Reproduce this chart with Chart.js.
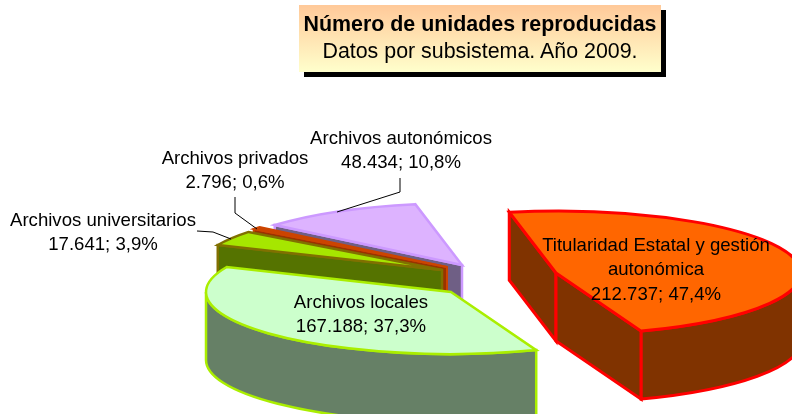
<!DOCTYPE html>
<html>
<head>
<meta charset="utf-8">
<title>Número de unidades reproducidas</title>
<script src="https://cdn.jsdelivr.net/npm/chart.js@4"></script>
<style>
html, body { margin: 0; padding: 0; background: #fff; overflow: hidden; }
#wrap { position: relative; width: 792px; height: 414px; overflow: hidden; }
#title {
    position: absolute; left: 299px; top: 5px; width: 362px; height: 67px;
    background: linear-gradient(#ffc999, #ffffcc);
    box-shadow: 5px 5px 0 #000;
    font-family: "Liberation Sans", Arial, sans-serif;
    font-size: 21.4px; line-height: 27px; text-align: center; color: #000;
}
#title b { display: block; margin-top: 6px; white-space: nowrap; }
</style>
</head>
<body>
<div id="wrap">
    <div id="title"><b>Número de unidades reproducidas</b>Datos por subsistema. Año 2009.</div>
    <canvas id="pieChart" width="792" height="414"></canvas>
</div>
<script>
// Data
const categories = ['Titularidad Estatal y gestión autonómica', 'Archivos locales', 'Archivos universitarios', 'Archivos privados', 'Archivos autonómicos'];
const unidades = [212737, 167188, 17641, 2796, 48434];
const porcentajes = ['47,4', '37,3', '3,9', '0,6', '10,8'];

// Styles
const topColors = ['#ff6600', '#ccffcc', '#a6e600', '#cc4400', '#ddb3ff'];
const sideColors = ['#803300', '#668066', '#557300', '#993300', '#6f5f85'];
const edgeColors = ['#ff0000', '#aaee00', '#807000', '#cc4400', '#cc99ff'];
const edgeWidths = [3, 2.5, 2.5, 2, 2.5];

// 3D look: squash of the pie, height of the walls, how far each slice is pulled out
const squash = 0.253;
const depth = 68;
const explode = [[160, 66], [55, 85], [46, 63], [51, 60], [66, 58]];
const drawOrder = [4, 3, 2, 1, 0];

// Label placement: centre x, first line y
const labelLines = [
    ['Titularidad Estatal y gestión', 'autonómica'],
    ['Archivos locales'],
    ['Archivos universitarios'],
    ['Archivos privados'],
    ['Archivos autonómicos']
];
const labelPos = [[656, 246], [361, 302.5], [103, 220.5], [235, 158.5], [401, 138.5]];
const leaders = [
    null,
    null,
    [[197, 231], [213, 232], [231, 239]],
    [[235, 197], [235, 213], [257, 229]],
    [[400, 178], [400, 192], [337, 212]]
];

function formatMiles(n) {
    return String(n).replace(/\B(?=(\d{3})+$)/g, '.');
}

function edgePoint(cx, cy, r, angle) {
    return [cx + Math.cos(angle) * r, cy + Math.sin(angle) * r * squash];
}

function strokeFill(ctx, fill, stroke, width) {
    ctx.fillStyle = fill;
    ctx.fill();
    ctx.strokeStyle = stroke;
    ctx.lineWidth = width;
    ctx.lineJoin = 'miter';
    ctx.stroke();
}

const pie3d = {
    id: 'pie3d',
    beforeDatasetsDraw(chart) {
        const ctx = chart.ctx;
        const arcs = chart.getDatasetMeta(0).data;

        drawOrder.forEach(function (i) {
            const arc = arcs[i];
            const r = arc.outerRadius;
            const cx = arc.x + explode[i][0];
            const cy = arc.y + explode[i][1];
            const side = sideColors[i], edge = edgeColors[i], w = edgeWidths[i];

            // flat walls along the cut edges, only those turned to the viewer
            const walls = [];
            if (Math.cos(arc.startAngle) < 0) walls.push(arc.startAngle);
            if (Math.cos(arc.endAngle) > 0) walls.push(arc.endAngle);
            walls.forEach(function (angle) {
                const p = edgePoint(cx, cy, r, angle);
                ctx.beginPath();
                ctx.moveTo(cx, cy);
                ctx.lineTo(p[0], p[1]);
                ctx.lineTo(p[0], p[1] + depth);
                ctx.lineTo(cx, cy + depth);
                ctx.closePath();
                strokeFill(ctx, side, edge, w);
            });

            // curved wall, only the part that faces the viewer
            const from = Math.max(arc.startAngle, 0);
            const to = Math.min(arc.endAngle, Math.PI);
            if (to > from) {
                ctx.beginPath();
                ctx.ellipse(cx, cy, r, r * squash, 0, from, to);
                ctx.ellipse(cx, cy + depth, r, r * squash, 0, to, from, true);
                ctx.closePath();
                strokeFill(ctx, side, edge, w);
            }

            // top face is the library's own arc, squashed
            ctx.save();
            ctx.translate(cx, cy);
            ctx.scale(1, squash);
            ctx.translate(-arc.x, -arc.y);
            arc.draw(ctx);
            ctx.restore();

            ctx.beginPath();
            ctx.moveTo(cx, cy);
            ctx.ellipse(cx, cy, r, r * squash, 0, arc.startAngle, arc.endAngle);
            ctx.closePath();
            ctx.strokeStyle = edge;
            ctx.lineWidth = w;
            ctx.stroke();
        });
        return false;
    },
    afterDraw(chart) {
        const ctx = chart.ctx;

        ctx.strokeStyle = '#000';
        ctx.lineWidth = 1;
        leaders.forEach(function (pts) {
            if (!pts) return;
            ctx.beginPath();
            pts.forEach(function (p, k) {
                if (k === 0) ctx.moveTo(p[0], p[1]);
                else ctx.lineTo(p[0], p[1]);
            });
            ctx.stroke();
        });

        ctx.fillStyle = '#000';
        ctx.font = '18.6px "Liberation Sans", Arial, sans-serif';
        ctx.textAlign = 'center';
        ctx.textBaseline = 'middle';
        categories.forEach(function (c, i) {
            const lines = labelLines[i].concat(formatMiles(unidades[i]) + '; ' + porcentajes[i] + '%');
            lines.forEach(function (line, k) {
                ctx.fillText(line, labelPos[i][0], labelPos[i][1] + k * 24.3);
            });
        });
    }
};

document.addEventListener('DOMContentLoaded', function () {
    new Chart(document.getElementById('pieChart').getContext('2d'), {
        type: 'pie',
        data: {
            labels: categories,
            datasets: [{
                data: unidades,
                backgroundColor: topColors,
                borderWidth: 0
            }]
        },
        options: {
            responsive: false,
            animation: false,
            rotation: -11,
            radius: 245,
            layout: { padding: 0 },
            plugins: {
                legend: { display: false },
                title: { display: false },
                tooltip: { enabled: false }
            }
        },
        plugins: [pie3d]
    });
});
</script>
</body>
</html>
